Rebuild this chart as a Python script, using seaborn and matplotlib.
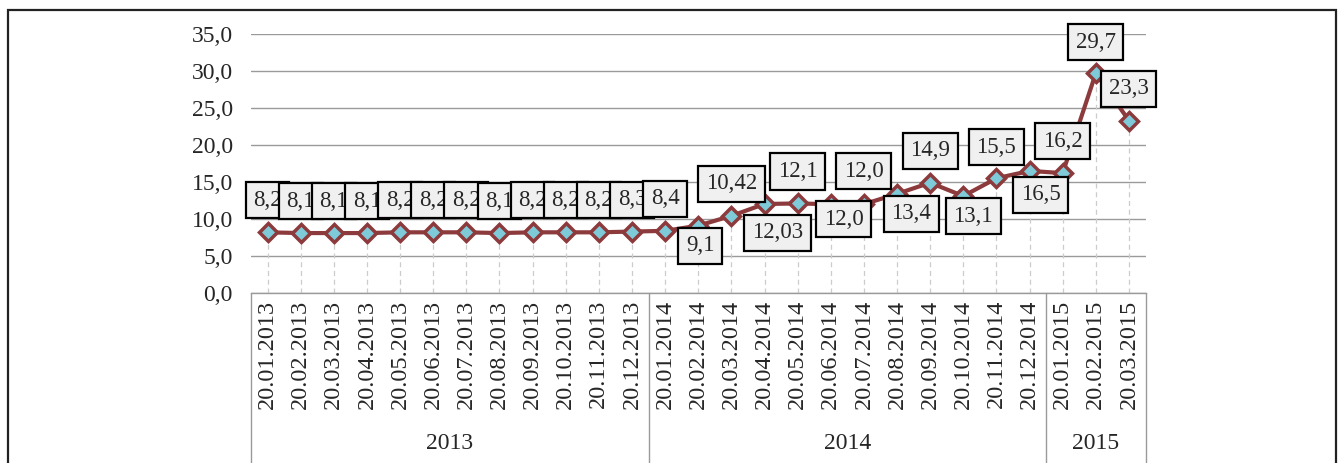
import numpy as np
import pandas as pd
import matplotlib.pyplot as plt
import seaborn as sns
from matplotlib.transforms import blended_transform_factory

# data
dates = ["20.01.2013", "20.02.2013", "20.03.2013", "20.04.2013", "20.05.2013", "20.06.2013",
         "20.07.2013", "20.08.2013", "20.09.2013", "20.10.2013", "20.11.2013", "20.12.2013",
         "20.01.2014", "20.02.2014", "20.03.2014", "20.04.2014", "20.05.2014", "20.06.2014",
         "20.07.2014", "20.08.2014", "20.09.2014", "20.10.2014", "20.11.2014", "20.12.2014",
         "20.01.2015", "20.02.2015", "20.03.2015"]
values = [8.2, 8.1, 8.1, 8.1, 8.2, 8.2, 8.2, 8.1, 8.2, 8.2, 8.2, 8.3,
          8.4, 9.1, 10.42, 12.03, 12.1, 12.0, 12.0, 13.4, 14.9, 13.1, 15.5, 16.5,
          16.2, 29.7, 23.3]
years = ["2013", "2014", "2015"]
year_counts = [12, 12, 3]

# label placement (pixels from the point, y up)
label_offsets = [(0, 32)] * 13 + [(2, -20), (0, 32), (13, -29), (0, 32), (13, -15), (0, 33),
                                  (14, -20), (0, 32), (10, -20), (0, 31), (11, -24),
                                  (0, 32), (0, 31), (0, 32)]

df = pd.DataFrame({"pos": np.arange(len(values)), "value": values})

sns.set_theme(style="white")
plt.rcParams["font.family"] = ["Liberation Serif", "DejaVu Serif"]

DPI = 100
fig = plt.figure(figsize=(13.38, 4.63), dpi=DPI)
ax = fig.add_axes([251 / 1338, 170 / 463, 894.5 / 1338, 259 / 463])

line_color = "#8c3a3c"
sns.lineplot(data=df, x="pos", y="value", ax=ax, color=line_color, lw=3.0,
             marker="D", markersize=9.5, markerfacecolor="#7ecad9",
             markeredgecolor=line_color, markeredgewidth=2.5, zorder=4)

# drop lines
ax.vlines(df["pos"], 0, df["value"], colors="#cccccc", linestyles=(0, (4, 3)), lw=0.9, zorder=2)

ax.set_xlim(-0.5, len(values) - 0.5)
ax.set_ylim(0, 35)
ax.set_yticks(np.arange(0, 36, 5))
ax.set_yticklabels([f"{t:.1f}".replace(".", ",") for t in np.arange(0, 36, 5)], fontsize=17)
ax.yaxis.grid(True, color="#9a9a9a", lw=1.0)
ax.set_axisbelow(True)

ax.set_xticks(df["pos"])
ax.set_xticklabels(dates, rotation=90, fontsize=17.5, va="top")
ax.tick_params(axis="x", length=0, pad=5)
ax.tick_params(axis="y", length=0, pad=13)
ax.set_xlabel("")
ax.set_ylabel("")

for s in ["left", "right", "top"]:
    ax.spines[s].set_visible(False)
ax.spines["bottom"].set_color("#9a9a9a")
ax.spines["bottom"].set_linewidth(1.0)

# data labels
for i, v in enumerate(values):
    txt = (f"{v:.2f}" if round(v, 1) != v else f"{v:.1f}").replace(".", ",")
    dx, dy = label_offsets[i]
    ax.annotate(txt, xy=(i, v), xytext=(dx * 72 / DPI, dy * 72 / DPI), textcoords="offset points",
                ha="center", va="center", fontsize=16.5, zorder=6,
                bbox=dict(boxstyle="square,pad=0.33", fc="#f0f0f0", ec="black", lw=1.6))

# year groups below the axis
trans = blended_transform_factory(ax.transData, ax.transAxes)
start = -0.5
edges = [start]
for name, n in zip(years, year_counts):
    ax.text(start + n / 2, -0.58, name, transform=trans, ha="center", va="center",
            fontsize=17, clip_on=False)
    start += n
    edges.append(start)
for e in edges:
    ax.plot([e, e], [0, -0.7], transform=trans, color="#9a9a9a", lw=1.0, clip_on=False)

# outer frame
fig.add_artist(plt.Rectangle((8 / 1338, -0.1), 1328 / 1338, 1.1 - 10 / 463,
                             transform=fig.transFigure, fill=False, ec="#222222", lw=1.6))

fig.savefig("out.png", dpi=DPI)
